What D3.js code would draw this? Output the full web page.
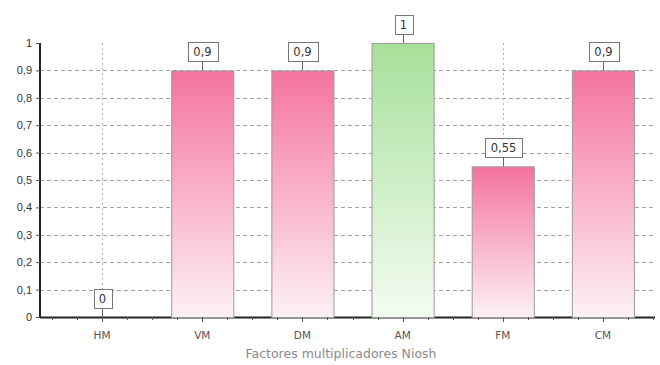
<!DOCTYPE html>
<html>
<head>
<meta charset="utf-8">
<script src="https://cdn.jsdelivr.net/npm/d3@7"></script>
<style>
  html, body { margin: 0; padding: 0; background: #fff; }
  svg { display: block; font-family: "DejaVu Sans", Arial, sans-serif; }
</style>
</head>
<body>
<svg id="chart" width="660" height="365"></svg>
<script>
// Niosh multiplier factors
const categories = ["HM", "VM", "DM", "AM", "FM", "CM"];
const values = [0, 0.9, 0.9, 1, 0.55, 0.9];
const highlight = ["AM"];
const yTicks = [0, 0.1, 0.2, 0.3, 0.4, 0.5, 0.6, 0.7, 0.8, 0.9, 1];
const xTitle = "Factores multiplicadores Niosh";

const svg = d3.select("#chart");
const plotLeft = 40, plotRight = 655, plotTop = 43, plotBottom = 317;

const x = d3.scaleBand().domain(categories).range([52, 653]).paddingInner(0.38).paddingOuter(0.19);
const y = d3.scaleLinear().domain([0, 1]).range([plotBottom, plotTop]);
const fmt = v => String(v).replace(".", ",");

const defs = svg.append("defs");
function grad(id, c1, c2) {
  const g = defs.append("linearGradient").attr("id", id)
    .attr("x1", 0).attr("y1", 0).attr("x2", 0).attr("y2", 1);
  g.append("stop").attr("offset", "0%").attr("stop-color", c1);
  g.append("stop").attr("offset", "100%").attr("stop-color", c2);
}
grad("pinkGrad", "#f4749e", "#fdf1f5");
grad("greenGrad", "#a6e09a", "#f4fcf2");

// horizontal grid
svg.append("g").selectAll("line").data(yTicks.filter(t => t > 0 && t < 1)).join("line")
  .attr("x1", plotLeft).attr("x2", plotRight)
  .attr("y1", d => Math.round(y(d)) + 0.5).attr("y2", d => Math.round(y(d)) + 0.5)
  .attr("stroke", "#a0a0a0").attr("stroke-width", 1).attr("stroke-dasharray", "4,3");

// vertical grid at category centers
const cx = d => x(d) + x.bandwidth() / 2;
svg.append("g").selectAll("line").data(categories).join("line")
  .attr("x1", d => Math.round(cx(d)) + 0.5).attr("x2", d => Math.round(cx(d)) + 0.5)
  .attr("y1", plotTop).attr("y2", plotBottom)
  .attr("stroke", "#b5b5b5").attr("stroke-width", 1).attr("stroke-dasharray", "2,3");

// x axis line
svg.append("line").attr("x1", plotLeft).attr("x2", plotRight)
  .attr("y1", plotBottom + 0.5).attr("y2", plotBottom + 0.5)
  .attr("stroke", "#222").attr("stroke-width", 2);

// bars
svg.append("g").selectAll("rect").data(categories).join("rect")
  .attr("x", d => x(d) + 0.5)
  .attr("y", (d, i) => y(values[i]) + 0.5)
  .attr("width", x.bandwidth())
  .attr("height", (d, i) => Math.max(0, y(0) - y(values[i])))
  .attr("fill", d => highlight.includes(d) ? "url(#greenGrad)" : "url(#pinkGrad)")
  .attr("stroke", "#9b9b9b").attr("stroke-width", 1);

// x minor ticks
const step = x.step();
const minor = [];
categories.forEach(c => { [-2, -1, 0, 1, 2].forEach(k => minor.push({ pos: cx(c) + k * step / 4, major: k === 0 })); });
svg.append("g").selectAll("line").data(minor.filter(m => m.pos < plotRight)).join("line")
  .attr("x1", d => Math.round(d.pos) + 0.5).attr("x2", d => Math.round(d.pos) + 0.5)
  .attr("y1", plotBottom).attr("y2", d => plotBottom + (d.major ? 5 : 3))
  .attr("stroke", "#555").attr("stroke-width", 1);

// y axis
const yAxis = d3.axisLeft(y).tickValues(yTicks).tickFormat(fmt).tickSize(4).tickPadding(4);
const ya = svg.append("g").attr("transform", `translate(${plotLeft},0)`).call(yAxis);
ya.select(".domain").attr("stroke", "#222").attr("stroke-width", 2).attr("d", `M0,${plotTop}V${plotBottom + 1}`);
ya.selectAll(".tick line").attr("stroke", "#555");
ya.selectAll(".tick text").attr("fill", "#333").attr("font-size", 11);

// category labels
svg.append("g").selectAll("text").data(categories).join("text")
  .attr("x", d => cx(d)).attr("y", 339)
  .attr("text-anchor", "middle").attr("font-size", 10.5).attr("fill", "#555")
  .text(d => d);

// axis title
svg.append("text").attr("x", 341).attr("y", 358)
  .attr("text-anchor", "middle").attr("font-size", 12.5).attr("fill", "#8a8a8a")
  .text(xTitle);

// value callouts
const labels = svg.append("g");
categories.forEach((c, i) => {
  const v = values[i];
  const px = Math.round(cx(c)) + 0.5;
  const barTop = y(v);
  const boxBottom = barTop - 9;
  const txt = fmt(v);
  const w = Math.max(18, txt.length * 7 + 9);
  const h = 19;
  labels.append("line").attr("x1", px).attr("x2", px)
    .attr("y1", boxBottom).attr("y2", barTop)
    .attr("stroke", "#666").attr("stroke-width", 1);
  labels.append("rect").attr("x", Math.round(px - w / 2) + 0.5).attr("y", Math.round(boxBottom - h) + 0.5)
    .attr("width", Math.round(w)).attr("height", h)
    .attr("fill", "#fff").attr("stroke", "#777").attr("stroke-width", 1);
  labels.append("text").attr("x", px).attr("y", boxBottom - 5)
    .attr("text-anchor", "middle").attr("font-size", 11.5).attr("fill", "#333")
    .text(txt);
});
</script>
</body>
</html>
